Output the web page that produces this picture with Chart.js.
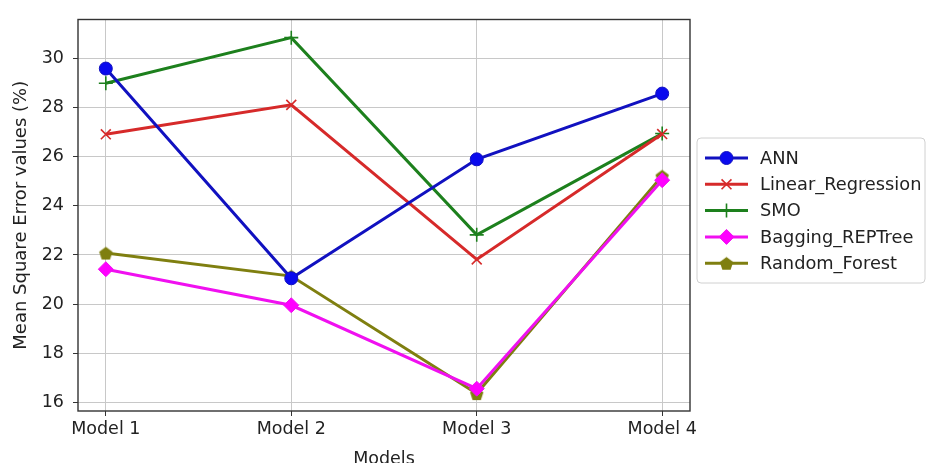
<!DOCTYPE html>
<html>
<head>
<meta charset="utf-8">
<script src="https://cdn.jsdelivr.net/npm/chart.js@4/dist/chart.umd.min.js"></script>
<style>
html,body{margin:0;padding:0;background:#fff;}
#wrap{width:929px;height:463px;position:relative;}
</style>
</head>
<body>
<div id="wrap"><canvas id="c" width="929" height="463"></canvas></div>
<script>
const categories = ['Model 1', 'Model 2', 'Model 3', 'Model 4'];
const seriesNames = ['ANN', 'Linear_Regression', 'SMO', 'Bagging_REPTree', 'Random_Forest'];
const annValues = [29.6, 21.05, 25.9, 28.58];
const linearRegressionValues = [26.92, 28.12, 21.82, 26.93];
const smoValues = [29.0, 30.86, 22.82, 26.95];
const baggingValues = [21.42, 19.95, 16.55, 25.05];
const randomForestValues = [22.08, 21.14, 16.35, 25.22];
const yTicks = [16, 18, 20, 22, 24, 26, 28, 30];
const xTickIdx = [0, 1, 2, 3];

const FONT = "'DejaVu Sans', sans-serif";

function pentagon(color, size) {
  const c = document.createElement('canvas');
  c.width = size; c.height = size;
  const g = c.getContext('2d');
  const r = size / 2 - 0.5, cx = size / 2, cy = size / 2 + 0.8;
  g.beginPath();
  for (let i = 0; i < 5; i++) {
    const a = -Math.PI / 2 + i * 2 * Math.PI / 5;
    const px = cx + r * Math.cos(a), py = cy + r * Math.sin(a);
    if (i === 0) g.moveTo(px, py); else g.lineTo(px, py);
  }
  g.closePath();
  g.fillStyle = color; g.fill();
  return c;
}

const toPts = arr => arr.map((v, i) => ({x: i, y: v}));

const styles = [
  {color: '#1111c0', point: 'circle', radius: 6.5, bw: 1, fill: '#0a0aee'},
  {color: '#d62a2a', point: 'crossRot', radius: 7, bw: 1.6, fill: '#d62a2a'},
  {color: '#1d801d', point: 'cross', radius: 7, bw: 1.6, fill: '#1d801d'},
  {color: '#f010f0', point: 'rectRot', radius: 7.5, bw: 1, fill: '#ff00ff'},
  {color: '#7f7f10', point: pentagon('#7f7f10', 15), radius: 7.5, bw: 1, fill: '#7f7f10'}
];
const values = [annValues, linearRegressionValues, smoValues, baggingValues, randomForestValues];

const datasets = seriesNames.map((name, i) => ({
  label: name,
  data: toPts(values[i]),
  borderColor: styles[i].color,
  backgroundColor: styles[i].fill,
  pointBackgroundColor: styles[i].fill,
  pointBorderColor: styles[i].color,
  pointStyle: styles[i].point,
  pointRadius: styles[i].radius,
  pointBorderWidth: styles[i].bw,
  borderWidth: 3,
  tension: 0,
  fill: false
}));

const framePlugin = {
  id: 'frame',
  afterDraw(chart) {
    const {ctx, chartArea: a} = chart;
    ctx.save();
    ctx.strokeStyle = '#333';
    ctx.lineWidth = 1.4;
    ctx.strokeRect(a.left, a.top, a.right - a.left, a.bottom - a.top);
    // legend
    const lx = 697, ly = 138, lw = 228, lh = 145;
    ctx.lineWidth = 1;
    ctx.strokeStyle = '#d0d0d0';
    ctx.fillStyle = 'rgba(255,255,255,0.9)';
    const r = 4;
    ctx.beginPath();
    ctx.moveTo(lx + r, ly);
    ctx.lineTo(lx + lw - r, ly); ctx.quadraticCurveTo(lx + lw, ly, lx + lw, ly + r);
    ctx.lineTo(lx + lw, ly + lh - r); ctx.quadraticCurveTo(lx + lw, ly + lh, lx + lw - r, ly + lh);
    ctx.lineTo(lx + r, ly + lh); ctx.quadraticCurveTo(lx, ly + lh, lx, ly + lh - r);
    ctx.lineTo(lx, ly + r); ctx.quadraticCurveTo(lx, ly, lx + r, ly);
    ctx.closePath(); ctx.fill(); ctx.stroke();
    ctx.font = '17.8px ' + FONT;
    ctx.textBaseline = 'middle';
    chart.data.datasets.forEach((ds, i) => {
      const y = 158 + i * 26.3;
      ctx.strokeStyle = ds.borderColor;
      ctx.lineWidth = 3;
      ctx.beginPath(); ctx.moveTo(705, y); ctx.lineTo(748, y); ctx.stroke();
      ctx.fillStyle = ds.pointBackgroundColor;
      ctx.strokeStyle = ds.pointBorderColor;
      ctx.lineWidth = ds.pointBorderWidth;
      Chart.helpers.drawPoint(ctx, {pointStyle: ds.pointStyle, radius: ds.pointRadius, rotation: 0, borderWidth: ds.pointBorderWidth}, 726.5, y);
      ctx.fillStyle = '#222';
      ctx.fillText(ds.label, 760, y + 1);
    });
    ctx.restore();
  }
};

new Chart(document.getElementById('c'), {
  type: 'line',
  data: {datasets},
  options: {
    responsive: false,
    animation: false,
    layout: {padding: {left: 0, top: 14, right: 239, bottom: 0}},
    plugins: {legend: {display: false}, tooltip: {enabled: false}},
    scales: {
      x: {
        type: 'linear', min: -0.15, max: 3.15,
        afterBuildTicks: ax => { ax.ticks = xTickIdx.map(v => ({value: v})); },
        afterFit: ax => { ax.height = 52; },
        ticks: {
          callback: v => categories[v] || '',
          color: '#222', font: {family: FONT, size: 17.5}, padding: 3, maxRotation: 0, autoSkip: false
        },
        grid: {color: '#c8c8c8', lineWidth: 1, tickColor: '#333', tickLength: 5},
        border: {display: false},
        title: {display: true, text: 'Models', color: '#222', font: {family: FONT, size: 17.5}, padding: {top: 0, bottom: -7}}
      },
      y: {
        type: 'linear', min: 15.64, max: 31.6,
        afterBuildTicks: ax => { ax.ticks = yTicks.map(v => ({value: v})); },
        afterFit: ax => { ax.width = 78; },
        ticks: {color: '#222', font: {family: FONT, size: 17.5}, padding: 9},
        grid: {color: '#c8c8c8', lineWidth: 1, tickColor: '#333', tickLength: 5},
        border: {display: false},
        title: {display: true, text: 'Mean Square Error values (%)', color: '#222', font: {family: FONT, size: 18}, padding: {top: 11, bottom: 0}}
      }
    }
  },
  plugins: [framePlugin]
});
</script>
</body>
</html>
